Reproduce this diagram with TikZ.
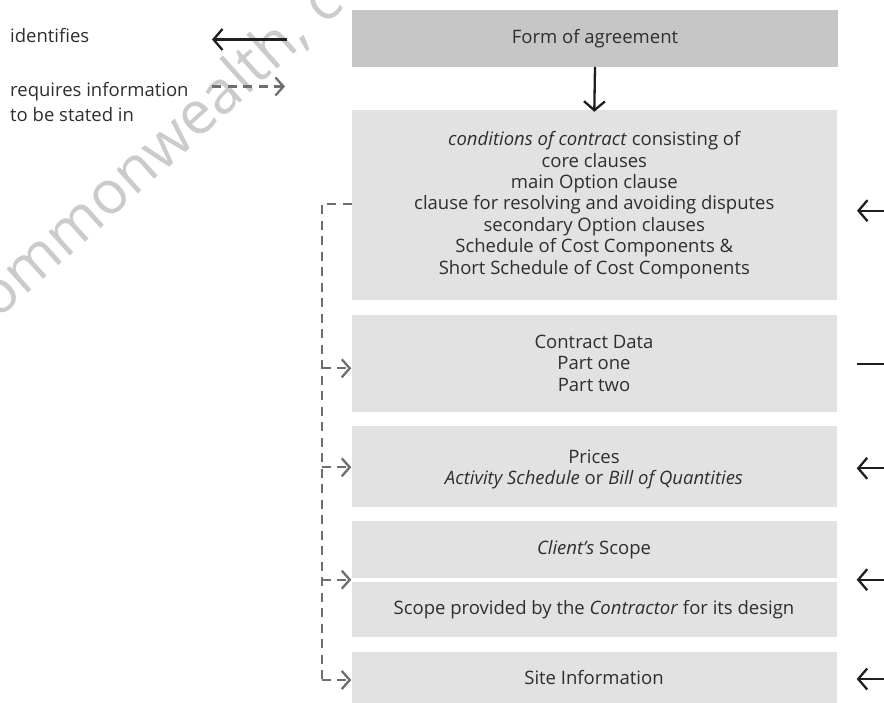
\documentclass[tikz,border=0pt]{standalone}
\usepackage{fontspec}
\setmainfont{Open Sans}
\usetikzlibrary{arrows.meta}
\definecolor{boxgray}{HTML}{E2E2E2}
\definecolor{topgray}{HTML}{C6C6C6}
\definecolor{dashgray}{HTML}{6E6E6E}
\definecolor{txt}{HTML}{2E2E2E}
\definecolor{wmgray}{HTML}{CBCBCB}
\begin{document}
\begin{tikzpicture}[x=1pt,y=-1pt,
  box/.style={fill=boxgray, draw=none, inner sep=0pt, align=center, text=txt,
    minimum width=485pt, font=\fontsize{18.5}{21.4}\selectfont},
  topbox/.style={box, fill=topgray, minimum width=486pt},
  legtext/.style={anchor=west, inner sep=0pt, align=left, text=txt, font=\fontsize{18.5}{25}\selectfont},
  ident/.style={line width=2.3pt, black!88, -{Straight Barb[length=9pt,width=21pt]}},
  plain/.style={line width=2.3pt, black!88},
  req/.style={line width=2.3pt, dashgray, dash pattern=on 9pt off 6.5pt, -{Straight Barb[length=8pt,width=18pt]}},
  reqline/.style={line width=2.3pt, dashgray, dash pattern=on 9pt off 6.5pt},
  wm/.style={text=wmgray, font=\fontsize{60}{60}\selectfont, inner sep=0pt, rotate=42}
]
\useasboundingbox (0,0) rectangle (884,703);
\begin{scope}
\clip (0,0) rectangle (884,703);
\node[wm, anchor=base east] (wm1) at (312,38) {Commonwealth,};
\node[wm, anchor=base west] (wm2) at (324,27) {c};
\end{scope}

% legend
\node[legtext] (lid) at (10,36) {identifies};
\node[legtext] (lreq) at (10,102.5) {requires information\\to be stated in};
\coordinate (lida) at (287,39.5);
\coordinate (lidb) at (212,39.5);
\draw[ident] (lida) -- (lidb);
\coordinate (lreqa) at (212,86.5);
\coordinate (lreqb) at (285,86.5);
\draw[req] (lreqa) -- (lreqb);

% boxes
\node[topbox, minimum height=56.7pt] (form) at (595,38.3) {Form of agreement};
\node[box, minimum height=190pt] (cond) at (594.3,205)
  {\textit{conditions of contract} consisting of\\core clauses\\main Option clause\\clause for resolving and avoiding disputes\\secondary Option clauses\\Schedule of Cost Components \&\\Short Schedule of Cost Components};
\node[box, minimum height=96.7pt] (cdata) at (594,363.3) {Contract Data\\Part one\\Part two};
\node[box, minimum height=80.7pt] (prices) at (594,466.3) {\rule{0pt}{20pt}Prices\\\textit{Activity Schedule} or \textit{Bill of Quantities}};
\node[box, minimum height=56.7pt] (client) at (594,549.3) {\textit{Client's} Scope};
\node[box, minimum height=55.6pt] (cscope) at (594,609.5) {Scope provided by the \textit{Contractor} for its design};
\node[box, minimum height=51pt] (site) at (594,677.5) {Site Information};

\draw[ident] (form.south) -- ([yshift=-2pt]cond.north);

% right-hand arrows
\coordinate (r1) at (884,210.7);
\coordinate (r2) at (884,364.3);
\coordinate (r3) at (884,468.3);
\coordinate (r4) at (884,579.7);
\coordinate (r5) at (884,679);
\draw[ident, shorten >=20pt] (r1) -- (r1 -| cond.east);
\draw[plain, shorten >=20pt] (r2) -- (r2 -| cdata.east);
\draw[ident, shorten >=20pt] (r3) -- (r3 -| prices.east);
\draw[ident, shorten >=20pt] (r4) -- (r4 -| cscope.east);
\draw[ident, shorten >=20pt] (r5) -- (r5 -| site.east);

% left dashed connectors
\coordinate (ltop) at (321.7,204);
\coordinate (l2) at (321.7,368.3);
\coordinate (l3) at (321.7,467.3);
\coordinate (l4) at (321.7,579.7);
\coordinate (l5) at (321.7,680);
\draw[reqline] (ltop -| cond.west) -- (ltop) -- (l5);
\draw[req] (l2) -- (l2 -| cdata.west);
\draw[req] (l3) -- (l3 -| prices.west);
\draw[req] (l4) -- (l4 -| cscope.west);
\draw[req] (l5) -- (l5 -| site.west);
\end{tikzpicture}
\end{document}
